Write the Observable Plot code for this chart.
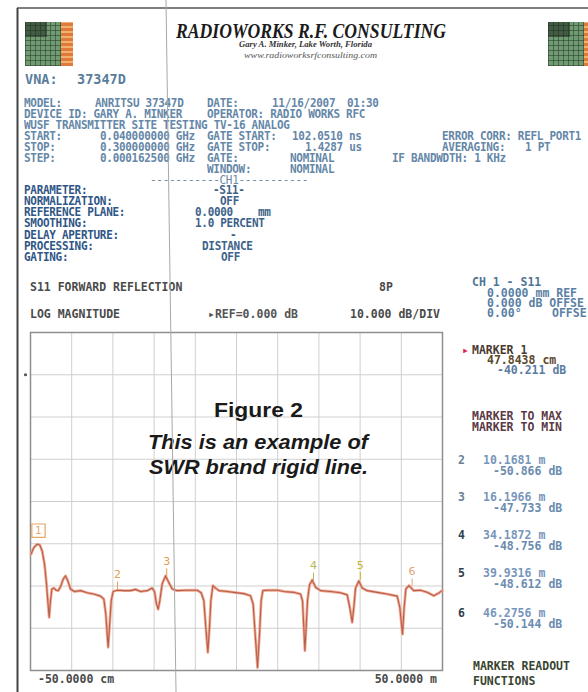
<!DOCTYPE html>
<html><head><meta charset="utf-8">
<script src="https://cdn.jsdelivr.net/npm/d3@7"></script>
<script src="https://cdn.jsdelivr.net/npm/@observablehq/plot@0.6"></script>
<style>
body{margin:0;background:#fff;}
#page{position:relative;width:588px;height:692px;overflow:hidden;background:#fff;}
.t{position:absolute;white-space:pre;}
.logo{position:absolute;background-color:#6f9a72;
 background-image:repeating-linear-gradient(0deg,rgba(40,60,40,.55) 0 1px,transparent 1px 5px),repeating-linear-gradient(90deg,rgba(40,60,40,.55) 0 1px,transparent 1px 5px);}
.logo .strip{position:absolute;top:0;bottom:0;right:0;width:26%;background:repeating-linear-gradient(0deg,#e07a3a 0 3px,#f0b070 3px 5px);}
.logo .dark{position:absolute;left:0;top:0;width:45%;height:35%;background:rgba(30,40,30,.55);}
</style></head><body><div id="page"></div>
<script>
// ---------- data ----------
const distance = [-0.42,-0.09,0.32,0.64,0.93,1.22,1.46,1.62,1.79,1.95,
 2.12,2.36,2.65,2.89,3.18,3.50,3.79,4.08,4.40,4.89,
 5.63,6.45,7.26,8.08,8.49,8.73,8.90,9.02,9.18,9.39,
 9.63,10.12,10.94,11.76,12.37,12.98,13.80,14.41,14.70,14.95,
 15.15,15.35,15.64,16.05,16.46,16.87,17.48,18.70,19.93,20.42,
 20.75,20.99,21.24,21.44,21.61,21.85,22.18,22.59,23.61,24.42,
 25.65,26.47,26.79,27.04,27.33,27.57,27.77,27.98,28.51,29.74,
 30.55,31.78,32.60,32.84,33.00,33.13,33.29,33.45,33.70,34.03,
 34.44,35.05,36.27,37.50,38.32,38.64,38.93,39.13,39.34,39.75,
 40.16,40.77,41.99,43.22,44.45,44.77,45.10,45.30,45.51,45.88,
 46.49,47.31,48.12,48.94,49.43,49.96];
const s11 = [-42.4,-40.9,-40.1,-40.3,-41.7,-44.8,-49.5,-53.5,-57.4,-53.5,
 -50.7,-50.5,-51.0,-51.1,-50.2,-48.4,-47.6,-48.8,-50.7,-51.3,
 -51.1,-51.6,-51.9,-52.4,-53.1,-56.6,-61.4,-64.5,-59.8,-53.5,
 -51.3,-51.0,-51.1,-51.1,-50.8,-51.3,-51.1,-50.5,-51.3,-54.3,
 -55.5,-53.5,-49.5,-47.6,-49.2,-50.7,-51.1,-51.0,-51.0,-51.6,
 -53.5,-59.8,-65.7,-59.8,-53.5,-49.9,-50.5,-51.1,-51.3,-51.5,
 -51.8,-52.3,-54.3,-61.4,-69.3,-61.4,-53.5,-51.1,-51.0,-51.0,
 -51.3,-51.5,-51.9,-53.5,-59.8,-65.3,-59.8,-53.5,-49.7,-48.6,
 -50.3,-51.1,-51.3,-51.6,-52.1,-55.1,-58.6,-55.1,-50.5,-48.8,
 -50.5,-51.1,-51.5,-51.9,-52.4,-55.1,-61.4,-55.1,-50.7,-49.9,
 -51.1,-51.0,-51.5,-52.3,-51.8,-51.1];
const markerIds = ["1","2","3","4","5","6"];
const markerDist = [0.478438, 10.1681, 16.1966, 34.1872, 39.9316, 46.2756];
const markerDb = [-40.211, -50.866, -47.733, -48.756, -48.612, -50.144];
const markerColors = ["#e3a868","#e8a055","#e39a50","#b5b84a","#c9b42a","#e2a47a"];
const xDomain = [-0.5, 50];
const yDomain = [-70, 10];
const refLevel = 0;
const yTicks = d3.range(-70, 11, 10);
const xTicks = d3.range(11).map(i => xDomain[0] + i * (xDomain[1] - xDomain[0]) / 10);

const trace = distance.map((d, i) => ({d, db: s11[i]}));
const markers = markerIds.map((id, i) => ({id, d: markerDist[i], db: markerDb[i], c: markerColors[i]}));

// ---------- chart ----------
const page = document.getElementById("page");
const chart = Plot.plot({
  width: 588, height: 692,
  marginLeft: 30, marginRight: 146, marginTop: 332, marginBottom: 22,
  x: {domain: xDomain, axis: null},
  y: {domain: yDomain, axis: null},
  style: {background: "transparent", overflow: "visible"},
  marks: [
    Plot.ruleX(xTicks, {stroke: "#cfcfcf", strokeWidth: 1}),
    Plot.ruleY(yTicks, {stroke: "#cfcfcf", strokeWidth: 1}),
    Plot.frame({stroke: "#8e8e8e", strokeWidth: 1.5}),
    Plot.line(trace, {x: "d", y: "db", stroke: "#f4a084", strokeWidth: 2.8, strokeOpacity: 0.9}),
    Plot.line(trace, {x: "d", y: "db", stroke: "#b2604f", strokeWidth: 1.1}),
    Plot.ruleX(markers.slice(1), {x: "d", y1: "db", y2: d => d.db + 1.8, stroke: d => d.c, strokeWidth: 1}),
    Plot.text(markers.slice(1), {x: "d", y: "db", text: "id", dy: -15, fill: d => d.c,
      fontSize: 11, fontFamily: "DejaVu Sans", fontWeight: "normal"}),
    Plot.dot(markers.slice(0, 1), {x: "d", y: "db", dy: -14, symbol: "square", r: 7.5,
      stroke: d => d.c, fill: "none", strokeWidth: 1.2}),
    Plot.text(markers.slice(0, 1), {x: "d", y: "db", text: "id", dy: -14, fill: d => d.c,
      fontSize: 10, fontFamily: "DejaVu Sans"}),
    Plot.dot([{d: xDomain[0], db: refLevel}], {x: "d", y: "db", dx: -5, r: 1.6, fill: "#555"})
  ]
});
chart.style.position = "absolute";
chart.style.left = "0px";
chart.style.top = "0px";
page.appendChild(chart);

// ---------- text helper ----------
function T(txt, x, y, o = {}) {
  const el = document.createElement("div");
  el.className = "t";
  el.textContent = txt;
  const size = o.size || 11;
  const lh = size * 0.8;
  const s = el.style;
  s.fontFamily = o.family || "'DejaVu Sans Mono', monospace";
  s.fontSize = size + "px";
  s.lineHeight = lh + "px";
  s.fontWeight = o.weight || "bold";
  if (o.italic) s.fontStyle = "italic";
  s.color = o.color || "#5f82a3";
  if (o.ls != null) s.letterSpacing = o.ls + "px";
  page.appendChild(el);
  const w = el.getBoundingClientRect().width;
  const sx = o.w ? o.w / w : 1;
  const sy = o.sy || 1;
  const ww = w * sx;
  const a = o.anchor || "start";
  s.left = (a === "start" ? x : a === "middle" ? x - ww / 2 : x - ww) + "px";
  s.top = (y - lh / 2) + "px";
  s.transformOrigin = "0 50%";
  s.transform = `scale(${sx},${sy})`;
  return el;
}

// ---------- header ----------
for (const [x, y] of [[25, 22], [548, 22]]) {
  const lg = document.createElement("div");
  lg.className = "logo";
  lg.style.left = x + "px"; lg.style.top = y + "px";
  lg.style.width = "48px"; lg.style.height = "44px";
  lg.innerHTML = '<div class="dark"></div><div class="strip"></div>';
  page.appendChild(lg);
}
T("RADIOWORKS R.F. CONSULTING", 311, 31, {family: "'Liberation Serif', serif", size: 21, italic: true, color: "#1b1b1b", w: 270, anchor: "middle"});
T("Gary A. Minker, Lake Worth, Florida", 305, 45, {family: "'Liberation Serif', serif", size: 9, italic: true, color: "#333", w: 133, anchor: "middle"});
T("www.radioworksrfconsulting.com", 310, 56, {family: "'Liberation Serif', serif", size: 8, italic: true, weight: "normal", color: "#555", w: 133, anchor: "middle"});
T("VNA:", 25, 79, {size: 13.5, color: "#5a7d9c"});
T("37347D", 77, 79, {size: 13.5, color: "#5a7d9c"});

// ---------- settings block ----------
const U = {size: 11, ls: -0.3, sy: 1.15, color: "#6587a8"};
const uRows = [104, 115, 126, 137, 148, 159, 170, 181];
const upper = [
  [0, "MODEL:", 24], [0, "ANRITSU 37347D", 95], [0, "DATE:", 207], [0, "11/16/2007", 272], [0, "01:30", 347],
  [1, "DEVICE ID: GARY A. MINKER", 24], [1, "OPERATOR: RADIO WORKS RFC", 207],
  [2, "WUSF TRANSMITTER SITE TESTING TV-16 ANALOG", 24],
  [3, "START:", 24], [3, "0.040000000 GHz", 100], [3, "GATE START:", 207], [3, "102.0510 ns", 292], [3, "ERROR CORR: REFL PORT1", 442],
  [4, "STOP:", 24], [4, "0.300000000 GHz", 100], [4, "GATE STOP:", 207], [4, "1.4287 us", 305], [4, "AVERAGING:", 442], [4, "1 PT", 525],
  [5, "STEP:", 24], [5, "0.000162500 GHz", 100], [5, "GATE:", 207], [5, "NOMINAL", 290], [5, "IF BANDWDTH: 1 KHz", 392],
  [6, "WINDOW:", 207], [6, "NOMINAL", 290]
];
for (const [r, txt, x] of upper) T(txt, x, uRows[r], U);
T("-----------CH1-----------", 150, uRows[7], {...U, weight: "normal", color: "#6f8aa5"});

const lRows = [191, 202, 213, 224, 236, 247, 258];
const labels = ["PARAMETER:", "NORMALIZATION:", "REFERENCE PLANE:", "SMOOTHING:", "DELAY APERTURE:", "PROCESSING:", "GATING:"];
labels.forEach((t, i) => T(t, 24, lRows[i], {...U, color: "#2f5686"}));
const vals = [["-S11-", 213], ["OFF", 220], ["0.0000", 195], ["1.0 PERCENT", 195], ["-", 230], ["DISTANCE", 202], ["OFF", 221]];
vals.forEach(([t, x], i) => T(t, x, lRows[i], {...U, color: "#3d6289"}));
T("mm", 258, lRows[2], {...U, color: "#3d6289"});

// ---------- chart header rows ----------
const C = {size: 11.5, color: "#4a4a4a"};
T("S11 FORWARD REFLECTION", 30, 288, C);
T("8P", 379, 288, C);
T("LOG MAGNITUDE", 30, 315, C);
T("\u25B8REF=" + refLevel.toFixed(3) + " dB", 208, 315, {...C, color: "#555"});
T("10.000 dB/DIV", 440, 315, {...C, anchor: "end"});
T("-50.0000 cm", 38, 680, C);
T("50.0000 m", 437, 680, {...C, anchor: "end"});

// ---------- right panel ----------
const R = {size: 11.5, color: "#5a7fa5"};
T("CH 1 - S11", 472, 283, {...R, color: "#4f7595"});
T("0.0000 mm REF", 487, 294, R);
T("0.000 dB OFFSE", 487, 304, R);
T("0.00\u00B0", 487, 314, R);
T("OFFSE", 552, 314, R);
T("\u25B8", 462, 351, {...R, color: "#e0204a"});
T("MARKER 1", 472, 351, {...R, color: "#4b3a30"});
T((markerDist[0] * 100).toFixed(4) + " cm", 487, 361, {...R, color: "#5c4a2c"});
T(markerDb[0].toFixed(3) + " dB", 497, 371, {...R, color: "#5a7ca0"});
T("MARKER TO MAX", 472, 417, {...R, color: "#5b3a45"});
T("MARKER TO MIN", 472, 428, {...R, color: "#5b3a45"});
const mRows = [461, 498, 536, 574, 614];
markers.slice(1).forEach((m, i) => {
  T(m.id, 458, mRows[i], {...R, color: i < 2 ? "#6a7f95" : "#2f4050"});
  T(m.d.toFixed(4) + " m", 483, mRows[i], {...R, color: "#7896bb"});
  T(m.db.toFixed(3) + " dB", 493, mRows[i] + 11, {...R, color: "#6a8cb0"});
});
T("MARKER READOUT", 473, 667, {...R, color: "#3a4530"});
T("FUNCTIONS", 473, 682, {...R, color: "#3a4530"});

// ---------- figure caption inside chart ----------
const F = {family: "'Liberation Sans', Arial, sans-serif", color: "#1a1a1a"};
T("Figure 2", 258, 410, {...F, size: 21, w: 89, anchor: "middle"});
T("This is an example of", 258, 442, {...F, size: 21, italic: true, w: 220, anchor: "middle"});
T("SWR brand rigid line.", 258, 467, {...F, size: 21, italic: true, w: 219, anchor: "middle"});

// ---------- page borders and fold line ----------
const ov = document.createElementNS("http://www.w3.org/2000/svg", "svg");
ov.setAttribute("width", 588); ov.setAttribute("height", 692);
ov.style.position = "absolute"; ov.style.left = "0"; ov.style.top = "0"; ov.style.pointerEvents = "none";
ov.innerHTML = '<line x1="17" y1="8" x2="588" y2="8" stroke="#555" stroke-width="1.5"/>' +
  '<line x1="17.5" y1="8" x2="17.5" y2="692" stroke="#444" stroke-width="2"/>' +
  '<line x1="166" y1="0" x2="176" y2="692" stroke="#a8a8a8" stroke-width="1"/>';
page.appendChild(ov);
</script>
</body></html>
